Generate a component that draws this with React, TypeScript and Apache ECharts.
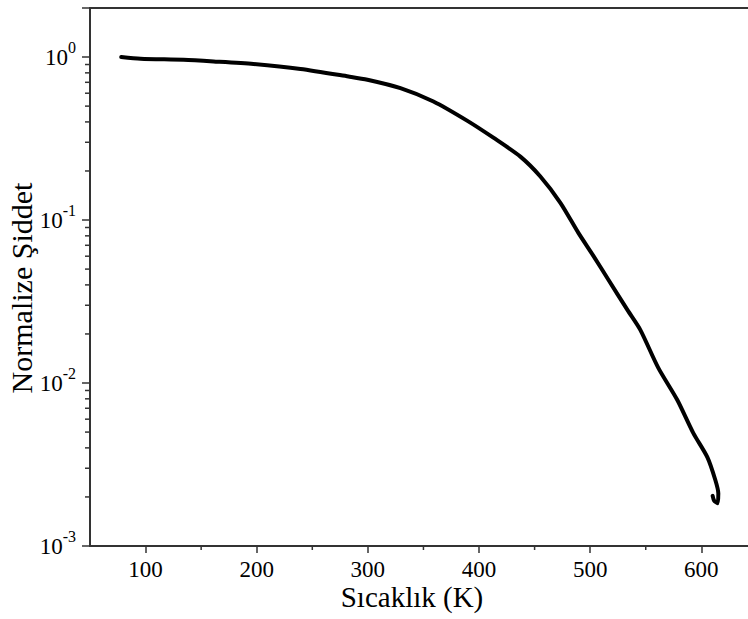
import React, { useEffect, useRef } from 'react';
import * as echarts from 'echarts';

const temperature = [78.1, 95.5, 134.2, 161.2, 197.1, 239.4, 282.6, 299.6, 329.3, 359.0, 389.6, 412.9, 437.2, 455.2, 473.2, 489.4, 502.9, 516.4, 533.5, 545.1, 561.3, 578.4, 592.8, 605.4, 612.6, 615.3, 614.6, 611.5, 610.2];
const intensity = [1.0, 0.976, 0.962, 0.94, 0.906, 0.845, 0.76, 0.726, 0.645, 0.534, 0.406, 0.32, 0.245, 0.185, 0.1276, 0.0834, 0.0603, 0.043, 0.0281, 0.0212, 0.01239, 0.00787, 0.00493, 0.00351, 0.00254, 0.0021, 0.00183, 0.0019, 0.00203];

const xMajorTicks = [100, 200, 300, 400, 500, 600];
const xMinorTicks = [150, 250, 350, 450, 550];
const yMinorTicks = [
  0.002, 0.003, 0.004, 0.005, 0.006, 0.007, 0.008, 0.009,
  0.02, 0.03, 0.04, 0.05, 0.06, 0.07, 0.08, 0.09,
  0.2, 0.3, 0.4, 0.5, 0.6, 0.7, 0.8, 0.9,
];

const X_MIN = 50;
const X_MAX = 642;
const Y_MIN = 0.001;
const Y_MAX = 2;

const FONT = '"Liberation Serif", "Times New Roman", serif';
const AXIS_COLOR = '#333333';

export default function App() {
  const ref = useRef<HTMLDivElement>(null);

  useEffect(() => {
    if (!ref.current) return;
    const chart = echarts.init(ref.current, undefined, { renderer: 'svg' });

    const option: any = {
      animation: false,
      backgroundColor: '#ffffff',
      grid: { left: 90, top: 8, right: 0, bottom: 73, containLabel: false, outerBoundsMode: 'none' },
      xAxis: [
        {
          type: 'value',
          min: X_MIN,
          max: X_MAX,
          position: 'bottom',
          name: 'Sıcaklık (K)',
          nameLocation: 'middle',
          nameGap: 40,
          nameMoveOverlap: false,
          nameTextStyle: { fontFamily: FONT, fontSize: 29, lineHeight: 22, color: '#000', padding: [0, 14, 0, 0] },
          axisLine: { show: true, onZero: false, lineStyle: { color: AXIS_COLOR, width: 2 } },
          axisTick: { show: true, inside: false, length: 7, customValues: xMajorTicks, lineStyle: { color: AXIS_COLOR, width: 1.5 } },
          axisLabel: {
            show: true,
            customValues: xMajorTicks,
            margin: 12,
            fontFamily: FONT,
            fontSize: 23,
            color: '#000',
          },
          splitLine: { show: false },
        },
        {
          type: 'value',
          min: X_MIN,
          max: X_MAX,
          position: 'top',
          axisLine: { show: true, onZero: false, lineStyle: { color: AXIS_COLOR, width: 2 } },
          axisTick: { show: false },
          axisLabel: { show: false },
          splitLine: { show: false },
        },
      ],
      yAxis: {
        type: 'log',
        logBase: 10,
        min: Y_MIN,
        max: Y_MAX,
        name: 'Normalize Şiddet',
        nameLocation: 'middle',
        nameGap: 54,
        nameMoveOverlap: false,
        nameRotate: 90,
        nameTextStyle: { fontFamily: FONT, fontSize: 30, color: '#000', padding: [0, 22, 0, 0] },
        axisLine: { show: true, onZero: false, lineStyle: { color: AXIS_COLOR, width: 2 } },
        axisTick: { show: true, inside: false, length: 8, lineStyle: { color: AXIS_COLOR, width: 1.5 } },
        axisLabel: {
          margin: 14,
          padding: [0, 0, 6, 0],
          formatter: (v: number) => {
            const e = Math.log10(v);
            const r = Math.round(e);
            if (Math.abs(e - r) > 1e-6) return '';
            return `{base|10}{sup|${r}}`;
          },
          rich: {
            base: { fontFamily: FONT, fontSize: 23, height: 23, verticalAlign: 'bottom', color: '#000' },
            sup: { fontFamily: FONT, fontSize: 16, height: 16, padding: [0, 0, 13, 0], verticalAlign: 'top', color: '#000' },
          },
        },
        splitLine: { show: false },
        minorTick: { show: false },
      },
      series: [
        {
          type: 'line',
          xAxisIndex: 0,
          data: temperature.map((t, i) => [t, intensity[i]]),
          showSymbol: false,
          symbol: 'none',
          smooth: 0.25,
          lineStyle: { color: '#000', width: 4, cap: 'round', join: 'round' },
          itemStyle: { color: '#000' },
          z: 5,
        },
        {
          type: 'custom',
          xAxisIndex: 0,
          clip: false,
          silent: true,
          data: yMinorTicks.map((v) => [X_MIN, v]),
          renderItem: (params: any, api: any) => {
            const p = api.coord([X_MIN, api.value(1)]);
            return {
              type: 'line',
              shape: { x1: p[0] - 5, y1: p[1], x2: p[0], y2: p[1] },
              style: { stroke: AXIS_COLOR, lineWidth: 1.5 },
            };
          },
          z: 3,
        },
        {
          type: 'custom',
          xAxisIndex: 0,
          clip: false,
          silent: true,
          data: xMinorTicks.map((v) => [v, Y_MIN]),
          renderItem: (params: any, api: any) => {
            const p = api.coord([api.value(0), Y_MIN]);
            return {
              type: 'line',
              shape: { x1: p[0], y1: p[1], x2: p[0], y2: p[1] + 4 },
              style: { stroke: AXIS_COLOR, lineWidth: 1.5 },
            };
          },
          z: 3,
        },
      ],
    };

    chart.setOption(option);
    return () => chart.dispose();
  }, []);

  return (
    <div
      ref={ref}
      style={{ position: 'fixed', left: 0, top: 0, width: 748, height: 619, background: '#fff' }}
    />
  );
}
